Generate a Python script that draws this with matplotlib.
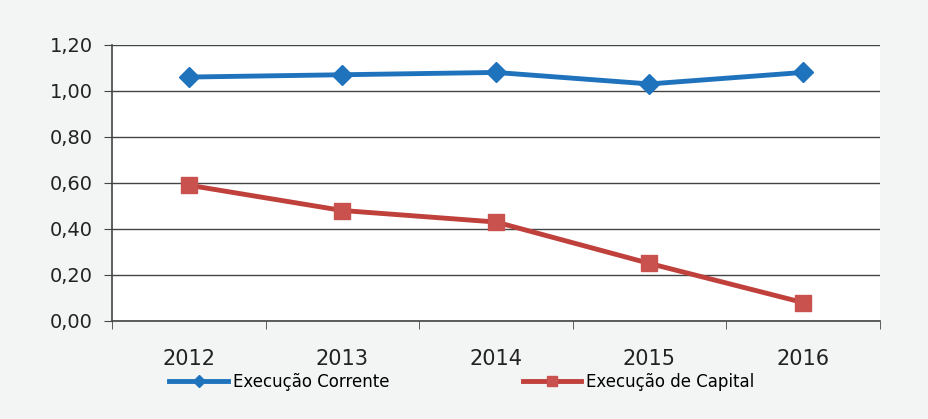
import matplotlib.pyplot as plt
import numpy as np

years = ['2012', '2013', '2014', '2015', '2016']
corrente = [1.06, 1.07, 1.08, 1.03, 1.08]
capital = [0.59, 0.48, 0.43, 0.25, 0.08]
yticks = [0.0, 0.2, 0.4, 0.6, 0.8, 1.0, 1.2]

plt.rcParams['font.family'] = ['Liberation Sans Narrow', 'DejaVu Sans']

fig = plt.figure(figsize=(9.29, 4.19), dpi=100, facecolor='#f3f5f4')
ax = fig.add_axes([0.1206, 0.234, 0.8264, 0.659])
ax.set_facecolor('white')

x = np.arange(len(years))
ax.plot(x, corrente, color='#1f73bd', lw=3.5, marker='D', markersize=10,
        label='Execução Corrente', zorder=3)
ax.plot(x, capital, color='#c0403c', lw=3.5, marker='s', markersize=12,
        markerfacecolor='#c9524e', markeredgecolor='#c9524e',
        label='Execução de Capital', zorder=3)

ax.set_xlim(-0.5, len(years) - 0.5)
ax.set_ylim(0, 1.2)
ax.set_yticks(yticks)
ax.set_yticklabels([f'{v:.2f}'.replace('.', ',') for v in yticks], fontsize=14, color='#222222')
ax.set_xticks(x)
ax.set_xticklabels(years, fontsize=15, color='#222222')
ax.set_xticks(np.arange(-0.5, len(years)), minor=True)
ax.tick_params(axis='x', which='major', length=0, pad=20)
ax.tick_params(axis='x', which='minor', length=6, color='#444444', direction='out')
ax.tick_params(axis='y', length=6, color='#444444', pad=8)

ax.grid(axis='y', color='#444444', lw=1)
ax.set_axisbelow(True)
for s in ['top', 'right']:
    ax.spines[s].set_visible(False)
for s in ['left', 'bottom']:
    ax.spines[s].set_color('#444444')
    ax.spines[s].set_linewidth(1.2)

fig.legend(loc='center', bbox_to_anchor=(0.497, 0.088), ncol=2, frameon=False,
           columnspacing=8, handlelength=3.5, handletextpad=0.3,
           markerscale=0.6, prop={'size': 12})

fig.savefig('out.png', dpi=100, facecolor=fig.get_facecolor())
